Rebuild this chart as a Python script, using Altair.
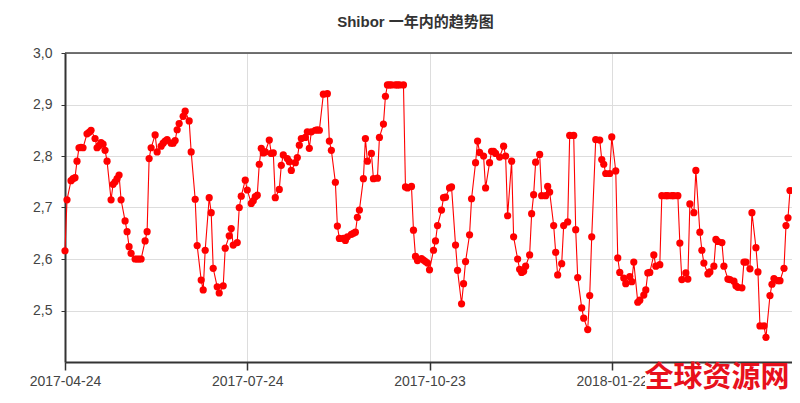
import altair as alt
import pandas as pd

title_text = "Shibor 一年内的趋势图"
watermark_text = "全球资源网"

dates = [
    # 2017-04
    "2017-04-24", "2017-04-25", "2017-04-27", "2017-04-28", "2017-04-29", "2017-04-30",
    # 2017-05
    "2017-05-01", "2017-05-02", "2017-05-03", "2017-05-05", "2017-05-06", "2017-05-07",
    "2017-05-09", "2017-05-10", "2017-05-11", "2017-05-12", "2017-05-13", "2017-05-14",
    "2017-05-15", "2017-05-17", "2017-05-18", "2017-05-19", "2017-05-20", "2017-05-21",
    "2017-05-22", "2017-05-24", "2017-05-25", "2017-05-26", "2017-05-27", "2017-05-29",
    "2017-05-30", "2017-05-31",
    # 2017-06
    "2017-06-01", "2017-06-03", "2017-06-04", "2017-06-05", "2017-06-06", "2017-06-08",
    "2017-06-09", "2017-06-11", "2017-06-12", "2017-06-13", "2017-06-14", "2017-06-16",
    "2017-06-17", "2017-06-18", "2017-06-19", "2017-06-20", "2017-06-22", "2017-06-23",
    "2017-06-25", "2017-06-26", "2017-06-28", "2017-06-29",
    # 2017-07
    "2017-07-01", "2017-07-02", "2017-07-03", "2017-07-05", "2017-07-06", "2017-07-07",
    "2017-07-09", "2017-07-10", "2017-07-12", "2017-07-13", "2017-07-15", "2017-07-16",
    "2017-07-17", "2017-07-19", "2017-07-20", "2017-07-21", "2017-07-23", "2017-07-24",
    "2017-07-26", "2017-07-27", "2017-07-28", "2017-07-29", "2017-07-30", "2017-07-31",
    # 2017-08
    "2017-08-01", "2017-08-02", "2017-08-04", "2017-08-05", "2017-08-06", "2017-08-07",
    "2017-08-09", "2017-08-10", "2017-08-11", "2017-08-13", "2017-08-14", "2017-08-15",
    "2017-08-17", "2017-08-18", "2017-08-19", "2017-08-20", "2017-08-22", "2017-08-23",
    "2017-08-24", "2017-08-25", "2017-08-27", "2017-08-28", "2017-08-29", "2017-08-31",
    # 2017-09
    "2017-09-02", "2017-09-03", "2017-09-04", "2017-09-06", "2017-09-07", "2017-09-08",
    "2017-09-10", "2017-09-11", "2017-09-12", "2017-09-14", "2017-09-15", "2017-09-16",
    "2017-09-17", "2017-09-18", "2017-09-20", "2017-09-21", "2017-09-22", "2017-09-24",
    "2017-09-25", "2017-09-27", "2017-09-28", "2017-09-30",
    # 2017-10
    "2017-10-01", "2017-10-02", "2017-10-03", "2017-10-04", "2017-10-06", "2017-10-07",
    "2017-10-08", "2017-10-10", "2017-10-11", "2017-10-12", "2017-10-14", "2017-10-15",
    "2017-10-16", "2017-10-17", "2017-10-19", "2017-10-20", "2017-10-21", "2017-10-22",
    "2017-10-23", "2017-10-25", "2017-10-26", "2017-10-27", "2017-10-29", "2017-10-30",
    "2017-10-31",
    # 2017-11
    "2017-11-02", "2017-11-03", "2017-11-05", "2017-11-06", "2017-11-08", "2017-11-09",
    "2017-11-10", "2017-11-12", "2017-11-13", "2017-11-15", "2017-11-16", "2017-11-17",
    "2017-11-19", "2017-11-20", "2017-11-22", "2017-11-23", "2017-11-24", "2017-11-25",
    "2017-11-27", "2017-11-29", "2017-11-30",
    # 2017-12
    "2017-12-01", "2017-12-03", "2017-12-04", "2017-12-06", "2017-12-07", "2017-12-08",
    "2017-12-09", "2017-12-10", "2017-12-12", "2017-12-13", "2017-12-14", "2017-12-15",
    "2017-12-17", "2017-12-18", "2017-12-20", "2017-12-21", "2017-12-22", "2017-12-24",
    "2017-12-25", "2017-12-26", "2017-12-28", "2017-12-29", "2017-12-31",
    # 2018-01
    "2018-01-01", "2018-01-03", "2018-01-04", "2018-01-05", "2018-01-07", "2018-01-08",
    "2018-01-10", "2018-01-11", "2018-01-12", "2018-01-14", "2018-01-16", "2018-01-17",
    "2018-01-18", "2018-01-19", "2018-01-21", "2018-01-22", "2018-01-24", "2018-01-25",
    "2018-01-26", "2018-01-28", "2018-01-29", "2018-01-31",
    # 2018-02
    "2018-02-01", "2018-02-02", "2018-02-04", "2018-02-05", "2018-02-07", "2018-02-08",
    "2018-02-09", "2018-02-10", "2018-02-12", "2018-02-13", "2018-02-15", "2018-02-16",
    "2018-02-18", "2018-02-19", "2018-02-21", "2018-02-22", "2018-02-24", "2018-02-25",
    "2018-02-26", "2018-02-28",
    # 2018-03
    "2018-03-01", "2018-03-02", "2018-03-04", "2018-03-05", "2018-03-07", "2018-03-08",
    "2018-03-09", "2018-03-11", "2018-03-12", "2018-03-14", "2018-03-15", "2018-03-16",
    "2018-03-18", "2018-03-19", "2018-03-21", "2018-03-22", "2018-03-24", "2018-03-25",
    "2018-03-26", "2018-03-28", "2018-03-29", "2018-03-30",
    # 2018-04
    "2018-04-01", "2018-04-02", "2018-04-04", "2018-04-05", "2018-04-06", "2018-04-08",
    "2018-04-09", "2018-04-11", "2018-04-12", "2018-04-13", "2018-04-15", "2018-04-16",
    "2018-04-18", "2018-04-19", "2018-04-20", "2018-04-21",
]

rates = [
    # 2017-04
    2.616, 2.715, 2.752, 2.756, 2.758, 2.790,
    # 2017-05
    2.816, 2.817, 2.816, 2.843, 2.846, 2.850, 2.834, 2.816, 2.820, 2.826, 2.823, 2.811,
    2.790, 2.715, 2.745, 2.750, 2.756, 2.763, 2.715, 2.674, 2.653, 2.624, 2.611, 2.600,
    2.600, 2.600,
    # 2017-06
    2.600, 2.635, 2.653, 2.795, 2.816, 2.841, 2.808, 2.819, 2.825, 2.829, 2.832, 2.825,
    2.825, 2.830, 2.851, 2.863, 2.877, 2.887, 2.868, 2.808, 2.716, 2.626,
    # 2017-07
    2.559, 2.540, 2.617, 2.719, 2.690, 2.582, 2.546, 2.534, 2.548, 2.621, 2.645, 2.659,
    2.627, 2.632, 2.700, 2.722, 2.753, 2.734, 2.708, 2.713, 2.721, 2.724, 2.784, 2.815,
    # 2017-08
    2.806, 2.808, 2.831, 2.805, 2.806, 2.719, 2.735, 2.782, 2.802, 2.795, 2.789, 2.772,
    2.787, 2.797, 2.821, 2.834, 2.836, 2.847, 2.815, 2.847, 2.850, 2.851, 2.850, 2.920,
    # 2017-09
    2.921, 2.829, 2.811, 2.749, 2.664, 2.640, 2.640, 2.636, 2.643, 2.648, 2.650, 2.652,
    2.681, 2.695, 2.756, 2.834, 2.790, 2.805, 2.756, 2.757, 2.836, 2.862,
    # 2017-10
    2.916, 2.938, 2.938, 2.938, 2.938, 2.938, 2.938, 2.938, 2.740, 2.738, 2.741, 2.656,
    2.605, 2.597, 2.601, 2.598, 2.595, 2.592, 2.579, 2.617, 2.635, 2.665, 2.695, 2.719,
    2.720,
    # 2017-11
    2.738, 2.740, 2.627, 2.578, 2.513, 2.552, 2.595, 2.647, 2.717, 2.787, 2.829, 2.807,
    2.800, 2.738, 2.787, 2.809, 2.809, 2.805, 2.798, 2.819, 2.800,
    # 2017-12
    2.684, 2.790, 2.643, 2.600, 2.580, 2.574, 2.576, 2.586, 2.608, 2.688, 2.725, 2.788,
    2.803, 2.723, 2.723, 2.741, 2.730, 2.665, 2.613, 2.569, 2.591, 2.665, 2.672,
    # 2018-01
    2.840, 2.840, 2.657, 2.564, 2.505, 2.485, 2.463, 2.529, 2.643, 2.832, 2.831, 2.793,
    2.784, 2.766, 2.766, 2.837, 2.771, 2.602, 2.574, 2.563, 2.552, 2.566,
    # 2018-02
    2.556, 2.594, 2.516, 2.520, 2.530, 2.540, 2.573, 2.574, 2.608, 2.586, 2.589, 2.723,
    2.723, 2.723, 2.723, 2.723, 2.723, 2.631, 2.560, 2.573,
    # 2018-03
    2.561, 2.707, 2.690, 2.772, 2.652, 2.617, 2.592, 2.571, 2.575, 2.586, 2.638, 2.634,
    2.632, 2.586, 2.561, 2.560, 2.557, 2.548, 2.545, 2.544, 2.594, 2.594,
    # 2018-04
    2.581, 2.690, 2.622, 2.575, 2.470, 2.470, 2.448, 2.529, 2.551, 2.562, 2.558, 2.558,
    2.582, 2.665, 2.680, 2.733,
]

x_tick_dates = [(2017, 4, 24), (2017, 7, 24), (2017, 10, 23), (2018, 1, 22)]
x_domain = [(2017, 4, 24), (2018, 4, 22)]
y_ticks = [2.5, 2.6, 2.7, 2.8, 2.9, 3.0]
y_domain = [2.4, 3.0]
top_line = [3.0]

df = pd.DataFrame({"date": pd.to_datetime(dates), "rate": rates})


def dt(t):
    return alt.DateTime(year=t[0], month=t[1], date=t[2])


x_enc = alt.X(
    "date:T",
    scale=alt.Scale(domain=[dt(t) for t in x_domain]),
    axis=alt.Axis(
        values=[dt(t) for t in x_tick_dates],
        format="%Y-%m-%d",
        title=None,
        labelAngle=0,
        labelFlush=False,
        tickSize=8,
        tickColor="#333333",
        tickWidth=1.5,
        domainColor="#333333",
        domainWidth=2,
        grid=True,
        gridColor="#dddddd",
        labelFont="Liberation Sans",
        labelFontSize=14,
        labelColor="#444444",
        labelPadding=4,
    ),
)

y_enc = alt.Y(
    "rate:Q",
    scale=alt.Scale(domain=y_domain, zero=False, nice=False),
    axis=alt.Axis(
        values=y_ticks,
        labelExpr="replace(format(datum.value, '.1f'), '.', ',')",
        title=None,
        tickSize=4,
        tickColor="#333333",
        domainColor="#333333",
        domainWidth=2,
        grid=True,
        gridColor="#dddddd",
        labelFont="Liberation Sans",
        labelFontSize=14,
        labelColor="#444444",
        labelPadding=9,
        labelFlush=False,
    ),
)

base = alt.Chart(df)
line = base.mark_line(color="#ff0000", strokeWidth=1.1).encode(x=x_enc, y=y_enc)
points = base.mark_circle(color="#ff0000", size=52, opacity=1).encode(x="date:T", y="rate:Q")

top_rule = alt.Chart(pd.DataFrame({"v": top_line})).mark_rule(
    color="#444444", strokeWidth=1.5
).encode(y="v:Q")

wm_bg = alt.Chart(pd.DataFrame({"t": [watermark_text]})).mark_rect(color="white").encode(
    x=alt.value(580), x2=alt.value(727), y=alt.value(312), y2=alt.value(342)
)
wm = alt.Chart(pd.DataFrame({"t": [watermark_text]})).mark_text(
    font="Noto Sans CJK SC",
    fontSize=29,
    fontWeight="bold",
    color="#e8101c",
    align="center",
    baseline="middle",
).encode(text="t:N", x=alt.value(652), y=alt.value(325))

chart = (
    alt.layer(line, points, top_rule, wm_bg, wm)
    .properties(
        width=727,
        height=309,
        title=alt.TitleParams(
            title_text,
            font="Liberation Sans, Noto Sans CJK SC",
            fontSize=15,
            fontWeight="bold",
            color="#333333",
            anchor="middle",
            dx=-13,
            offset=16,
        ),
        autosize=alt.AutoSizeParams(type="none"),
        padding={"left": 57, "top": 45, "right": 0, "bottom": 33},
    )
    .configure_view(stroke=None)
    .configure(background="white")
)

chart.save("out.html", embed_options={"renderer": "svg", "actions": False})
